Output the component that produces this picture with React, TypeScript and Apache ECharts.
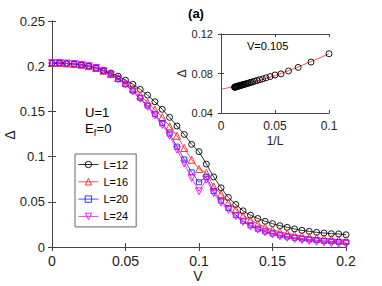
import React, { useEffect, useRef } from "react";
import * as echarts from "echarts";

const V = [0, 0.005, 0.01, 0.015, 0.02, 0.025, 0.03, 0.035, 0.04, 0.045, 0.05, 0.055, 0.06, 0.065, 0.07, 0.075, 0.08, 0.085, 0.09, 0.095, 0.1, 0.105, 0.11, 0.115, 0.12, 0.125, 0.13, 0.135, 0.14, 0.145, 0.15, 0.155, 0.16, 0.165, 0.17, 0.175, 0.18, 0.185, 0.19, 0.195, 0.2];

const L12 = [0.2035, 0.2035, 0.203, 0.2025, 0.2015, 0.2, 0.198, 0.1955, 0.1925, 0.189, 0.1845, 0.18, 0.1744, 0.168, 0.1607, 0.1523, 0.1434, 0.1338, 0.1245, 0.1135, 0.1055, 0.0917, 0.0775, 0.0655, 0.0548, 0.047, 0.04, 0.0352, 0.0315, 0.0284, 0.0258, 0.0236, 0.0218, 0.02, 0.0184, 0.0173, 0.0162, 0.0155, 0.0147, 0.0144, 0.0136];
const L16 = [0.2035, 0.2035, 0.203, 0.2025, 0.2015, 0.2, 0.198, 0.195, 0.1915, 0.187, 0.1815, 0.175, 0.1675, 0.16, 0.152, 0.1435, 0.1335, 0.123, 0.1095, 0.0965, 0.0862, 0.082, 0.067, 0.0585, 0.049, 0.0415, 0.0348, 0.0298, 0.0255, 0.022, 0.019, 0.0168, 0.015, 0.0135, 0.0122, 0.0112, 0.0103, 0.0095, 0.0088, 0.0082, 0.0077];
const L20 = [0.2035, 0.2035, 0.203, 0.2025, 0.2015, 0.2, 0.198, 0.1948, 0.191, 0.186, 0.18, 0.173, 0.165, 0.1565, 0.147, 0.137, 0.1255, 0.111, 0.0968, 0.0826, 0.0716, 0.0776, 0.0618, 0.0512, 0.043, 0.0355, 0.029, 0.024, 0.0202, 0.0172, 0.015, 0.013, 0.0115, 0.0102, 0.0092, 0.0083, 0.0075, 0.0068, 0.0062, 0.0057, 0.0053];
const L24 = [0.2035, 0.2035, 0.203, 0.2025, 0.2015, 0.2, 0.198, 0.1945, 0.1905, 0.1855, 0.1795, 0.172, 0.164, 0.155, 0.1455, 0.135, 0.123, 0.1077, 0.0922, 0.0763, 0.0616, 0.0745, 0.0595, 0.049, 0.041, 0.034, 0.0278, 0.023, 0.0192, 0.0162, 0.0138, 0.0118, 0.0102, 0.0088, 0.0077, 0.0067, 0.0058, 0.005, 0.0043, 0.0037, 0.0032];

const insetL = [10, 12, 14, 16, 18, 20, 22, 24, 26, 28, 30, 32, 34, 36, 38, 40, 42, 44, 46, 48, 50, 52, 54, 56, 58, 60, 62, 64, 66, 68, 70, 72, 74, 76, 78, 80];
const insetDelta = [0.1, 0.0916, 0.0862, 0.0825, 0.0796, 0.0785, 0.0769, 0.0756, 0.0745, 0.0737, 0.0729, 0.0722, 0.0716, 0.0711, 0.0706, 0.0701, 0.0697, 0.0694, 0.0691, 0.0688, 0.0686, 0.0683, 0.0681, 0.0679, 0.0677, 0.0675, 0.0673, 0.0671, 0.067, 0.0668, 0.0667, 0.0665, 0.0664, 0.0663, 0.0662, 0.0661];
const fitX = [0, 0.02, 0.04, 0.06, 0.08, 0.1];
const fitY = [0.064, 0.0689, 0.0746, 0.0818, 0.0906, 0.1];

const mainXTicks = { min: 0, max: 0.2, interval: 0.05 };
const mainYTicks = { min: 0, max: 0.25, interval: 0.05 };
const insetXTicks = { min: 0, max: 0.1, interval: 0.05 };
const insetYTicks = { min: 0.04, max: 0.12, interval: 0.04 };

const FONT = "'Liberation Sans', Arial, sans-serif";
const AX = "#444";

const SYM = {
  circle: "path://M10,5A5,5,0,1,1,0,5A5,5,0,1,1,10,5Z",
  tri: "path://M5,0L10,9L0,9Z",
  square: "path://M0,0L10,0L10,10L0,10Z",
  itri: "path://M0,0L10,0L5,9Z",
};

function axisCommon(gridIndex: number, showLabels: boolean, fontSize: number, margin: number, tickLen: number) {
  return {
    gridIndex,
    type: "value",
    axisLine: { show: true, lineStyle: { color: AX, width: 1 } },
    axisTick: { show: true, inside: true, length: tickLen, lineStyle: { color: AX } },
    axisLabel: { show: showLabels, fontSize, fontFamily: FONT, color: "#222", margin },
    splitLine: { show: false },
  };
}

export default function App() {
  const ref = useRef<HTMLDivElement>(null);
  useEffect(() => {
    if (!ref.current) return;
    const chart = echarts.init(ref.current, null, { renderer: "svg" });
    const mk = (name: string, ys: number[], color: string, symbol: string, size: number) => ({
      type: "line",
      name,
      xAxisIndex: 0,
      yAxisIndex: 0,
      data: V.map((v, i) => [v, ys[i]]),
      symbol,
      symbolSize: size,
      lineStyle: { color, width: 0.8 },
      itemStyle: { color: "rgba(0,0,0,0)", borderColor: color, borderWidth: 0.9 },
      emphasis: { disabled: true },
    });
    chart.setOption({
      animation: false,
      grid: [
        { left: 52, top: 21, width: 294, height: 226, containLabel: false, outerBoundsMode: "none" },
        { left: 221, top: 34, width: 108, height: 79, containLabel: false, outerBoundsMode: "none" },
      ],
      xAxis: [
        { ...axisCommon(0, true, 14, 7, 4), ...mainXTicks, position: "bottom" },
        { ...axisCommon(0, false, 14, 7, 4), ...mainXTicks, position: "top" },
        { ...axisCommon(1, true, 12, 7, 3), ...insetXTicks, position: "bottom", name: "1/L", nameLocation: "middle", nameGap: 22, nameTextStyle: { fontSize: 12, fontFamily: FONT, color: "#222" } },
        { ...axisCommon(1, false, 12, 7, 3), ...insetXTicks, position: "top" },
      ],
      yAxis: [
        { ...axisCommon(0, true, 13, 7, 4), ...mainYTicks, position: "left" },
        { ...axisCommon(0, false, 13, 7, 4), ...mainYTicks, position: "right" },
        { ...axisCommon(1, true, 11, 8, 3), ...insetYTicks, position: "left", name: "Δ", nameLocation: "middle", nameGap: 32, nameRotate: 90, nameTextStyle: { fontSize: 12, fontFamily: FONT, color: "#222" } },
        { ...axisCommon(1, false, 11, 8, 3), ...insetYTicks, position: "right" },
      ],
      legend: {
        data: ["L=12", "L=16", "L=20", "L=24"],
        orient: "vertical",
        left: 75,
        top: 154,
        itemWidth: 20,
        itemHeight: 8,
        itemGap: 6.3,
        padding: [5, 8, 5, 3],
        borderColor: "#666",
        borderWidth: 1,
        backgroundColor: "#fff",
        itemStyle: { borderWidth: 0.9 },
        lineStyle: { width: 0.8 },
        textStyle: { fontSize: 11, fontFamily: FONT, color: "#000" },
      },
      graphic: [
        { type: "text", x: 196, y: 13, style: { text: "(a)", fontSize: 13, fontWeight: "bold", fontFamily: FONT, fill: "#000", textAlign: "center", textVerticalAlign: "middle" } },
        { type: "text", x: 198, y: 276, style: { text: "V", fontSize: 14, fontFamily: FONT, fill: "#222", textAlign: "center", textVerticalAlign: "middle" } },
        { type: "text", x: 10, y: 135, rotation: Math.PI / 2, style: { text: "Δ", fontSize: 14, fontFamily: FONT, fill: "#222", textAlign: "center", textVerticalAlign: "middle" } },
        { type: "text", x: 85, y: 112, style: { text: "U=1", fontSize: 13, fontFamily: FONT, fill: "#000", textVerticalAlign: "middle" } },
        { type: "text", x: 85, y: 128, style: { text: "E", fontSize: 13, fontFamily: FONT, fill: "#000", textVerticalAlign: "middle" } },
        { type: "text", x: 93.8, y: 132.5, style: { text: "f", fontSize: 9, fontFamily: FONT, fill: "#000", textVerticalAlign: "middle" } },
        { type: "text", x: 96.6, y: 128, style: { text: "=0", fontSize: 13, fontFamily: FONT, fill: "#000", textVerticalAlign: "middle" } },
        { type: "text", x: 247, y: 46, style: { text: "V=0.105", fontSize: 11, fontFamily: FONT, fill: "#000", textVerticalAlign: "middle" } },
      ],
      series: [
        mk("L=12", L12, "#000000", SYM.circle, 6),
        mk("L=16", L16, "#ff2020", SYM.tri, 7),
        mk("L=20", L20, "#2020ff", SYM.square, 5),
        mk("L=24", L24, "#ff00ff", SYM.itri, 7),
        {
          type: "line",
          name: "inset",
          xAxisIndex: 2,
          yAxisIndex: 2,
          data: insetL.map((l, i) => [1 / l, insetDelta[i]]),
          symbol: SYM.circle,
          symbolSize: 6,
          lineStyle: { width: 0 },
          itemStyle: { color: "rgba(0,0,0,0)", borderColor: "#000", borderWidth: 0.9 },
          emphasis: { disabled: true },
        },
        {
          type: "line",
          name: "fit",
          xAxisIndex: 2,
          yAxisIndex: 2,
          data: fitX.map((x, i) => [x, fitY[i]]),
          smooth: true,
          symbol: "none",
          lineStyle: { color: "#ff2020", width: 0.8 },
          emphasis: { disabled: true },
          z: 3,
        },
      ],
    });
    return () => chart.dispose();
  }, []);
  return <div ref={ref} style={{ position: "fixed", left: 0, top: 0, width: 382, height: 286, background: "#fff" }} />;
}
